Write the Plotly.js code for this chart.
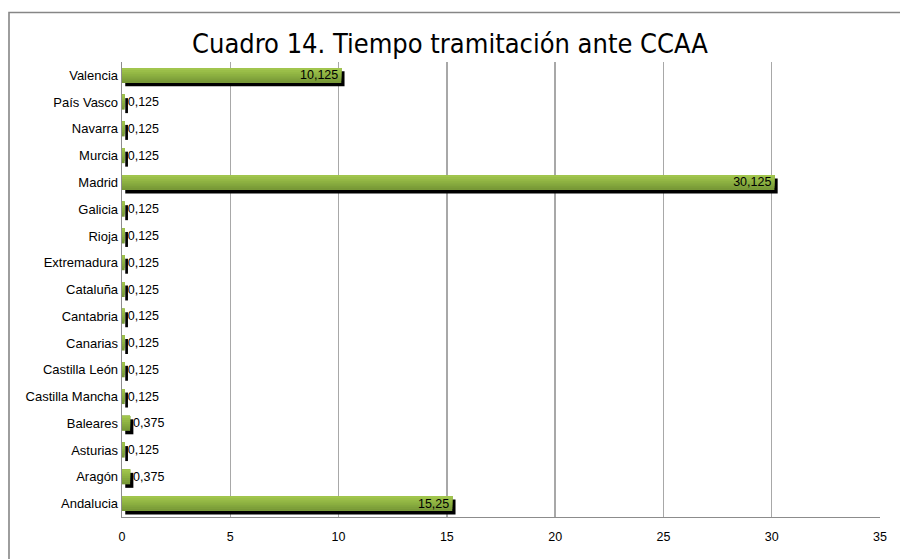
<!DOCTYPE html>
<html>
<head>
<meta charset="utf-8">
<script src="https://cdn.plot.ly/plotly-3.0.1.min.js"></script>
<style>html,body{margin:0;padding:0;background:#fff;}#chart{width:900px;height:559px;}</style>
</head>
<body>
<div id="chart"></div>
<script>
const categories = ["Andalucia","Aragón","Asturias","Baleares","Castilla Mancha","Castilla León","Canarias","Cantabria","Cataluña","Extremadura","Rioja","Galicia","Madrid","Murcia","Navarra","País Vasco","Valencia"];
const values = [15.25, 0.375, 0.125, 0.375, 0.125, 0.125, 0.125, 0.125, 0.125, 0.125, 0.125, 0.125, 30.125, 0.125, 0.125, 0.125, 10.125];
const xTicks = [0, 5, 10, 15, 20, 25, 30, 35];

const labels = values.map(v => String(v).replace('.', ','));
const half = 0.28;
const FONT = 'Liberation Sans, Arial, sans-serif';
const traces = [];
// shadow
traces.push({type:'bar', orientation:'h', y:categories, x:values, base:0.15,
  width:2*half, offset:-half-0.13, marker:{color:'#000000', line:{width:0}}, hoverinfo:'skip'});
// gradient layers
const greens = ['#789937','#7ea03a','#85a83e','#8cb041','#93b745','#9abe49','#a1c54d'];
const n = greens.length;
greens.forEach((c, i) => {
  const lo = -half + i*(2*half)/n;
  traces.push({type:'bar', orientation:'h', y:categories, x:values, base:0,
    width: half - lo, offset: lo, marker:{color:c, line:{width:0}}, hoverinfo:'skip'});
});
// labels (transparent, taller so text is not shrunk)
traces.push({type:'bar', orientation:'h', y:categories, x:values, base:0,
  width:0.96, offset:-0.48, marker:{color:'rgba(0,0,0,0)', line:{width:0}},
  text:labels, textposition: values.map(v => v > 5 ? 'inside' : 'outside'),
  insidetextanchor:'end', cliponaxis:false, constraintext:'none',
  textfont:{family:FONT, size:12.5, color:'#000'},
  insidetextfont:{family:FONT, size:12.5, color:'#000'},
  outsidetextfont:{family:FONT, size:12.5, color:'#000'},
  hoverinfo:'skip'});

const layout = {
  width:900, height:559,
  margin:{l:122, r:20, t:62, b:42},
  paper_bgcolor:'#fff', plot_bgcolor:'#fff',
  barmode:'overlay', showlegend:false,
  separators:',.',
  font:{family:FONT, size:12, color:'#000'},
  title:{text:'Cuadro 14. Tiempo tramitación ante CCAA', x:0.5, xanchor:'center', y:1-44/559, yanchor:'middle', yref:'container',
    font:{family:'DejaVu Sans Condensed, Liberation Sans Narrow, sans-serif', size:27, color:'#000'}},
  xaxis:{range:[0,35], tickvals:xTicks, ticktext:xTicks.map(String), showgrid:true, gridcolor:'#a8a8a8', gridwidth:1.3,
    zeroline:false, showline:true, linecolor:'#8c8c8c', linewidth:1.3, ticks:'', ticklen:0, ticklabelstandoff:8,
    tickfont:{family:FONT, size:12.5, color:'#000000'}, fixedrange:true},
  yaxis:{type:'category', categoryorder:'array', categoryarray:categories, range:[-0.5, categories.length-0.5],
    showgrid:false, zeroline:false, showline:true, linecolor:'#8c8c8c', linewidth:1.3, ticks:'', ticklen:0,
    tickfont:{family:FONT, size:13, color:'#000000'}, automargin:false, fixedrange:true},
  shapes:[{type:'rect', xref:'paper', yref:'paper', x0:(9-122)/758, x1:1.2, y0:-0.3, y1:(517-12.5)/455,
    line:{color:'#868686', width:1.6}, fillcolor:'rgba(0,0,0,0)', layer:'below'}]
};
Plotly.newPlot('chart', traces, layout, {displayModeBar:false, staticPlot:true});
</script>
</body>
</html>
